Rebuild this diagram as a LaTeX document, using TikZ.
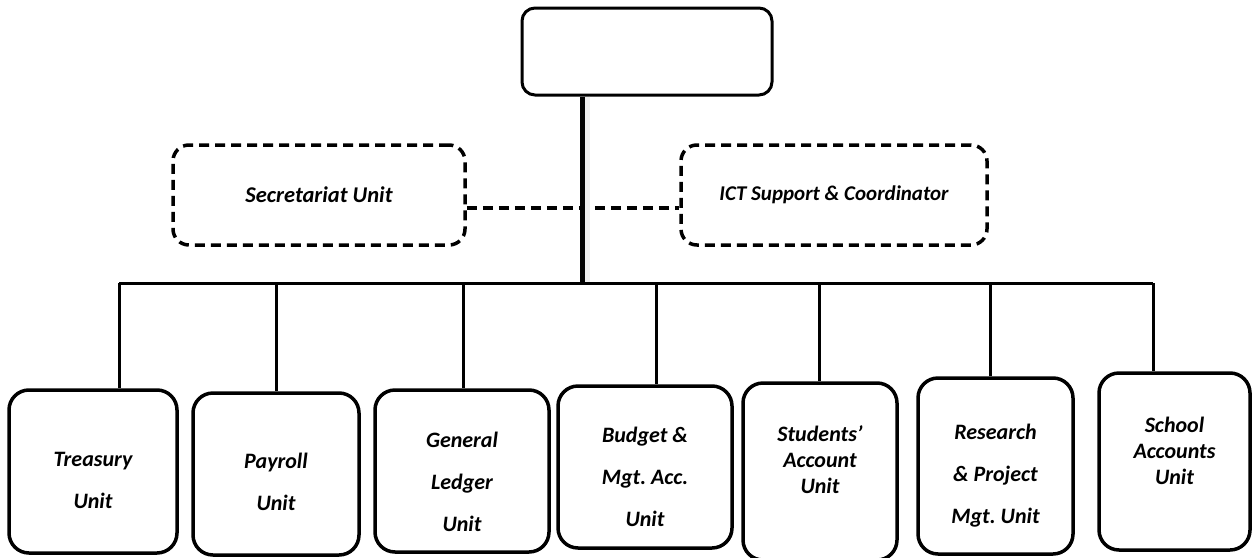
\documentclass[tikz,border=0pt]{standalone}
\usepackage{fontspec}
\setmainfont{Carlito}

\begin{document}
\begin{tikzpicture}[x=1pt, y=-1pt,
  line width=3pt,
  every node/.style={font=\fontsize{22}{26}\selectfont\bfseries\itshape},
  head/.style={draw, rounded corners=13pt, line width=3pt},
  aside/.style={draw, rounded corners=16pt, dash pattern=on 10pt off 6pt, line width=3.5pt},
  unit/.style={draw, rounded corners=20pt, line width=3.5pt},
  unittext/.style={align=center},
  double/.style={font=\fontsize{22}{42}\selectfont\bfseries\itshape},
  dashline/.style={dash pattern=on 10pt off 6pt, line width=3.5pt},
  stem/.style={line width=5pt},
  stemshadow/.style={line width=7pt, draw=black!7}
]
\useasboundingbox (0,0) rectangle (1252,557);

% head of the department
\node[head, minimum width=250, minimum height=87] (director) at (647,51.5) {};

% staff units beside the stem
\node[aside, minimum width=292, minimum height=100, font=\fontsize{22.5}{26}\selectfont\bfseries\itshape] (secretariat) at (319,195) {Secretariat Unit};
\node[aside, minimum width=306, minimum height=100, font=\fontsize{21}{26}\selectfont\bfseries\itshape] (ict) at (834,195) {ICT Support \& Coordinator};

% units under the bus
\node[unit, minimum width=168, minimum height=163] (treasury) at (93,471.5) {};
\node[unit, minimum width=166, minimum height=162] (payroll) at (276,474) {};
\node[unit, minimum width=174, minimum height=162] (ledger) at (462,471) {};
\node[unit, minimum width=174, minimum height=162] (budget) at (645,467) {};
\node[unit, minimum width=154, minimum height=177] (students) at (820,471.5) {};
\node[unit, minimum width=155, minimum height=176] (research) at (995.5,466) {};
\node[unit, minimum width=151, minimum height=177] (school) at (1174.5,461.5) {};

\node[unittext, double] (treasury-txt) at ([yshift=-9pt]treasury.center) {Treasury\\Unit};
\node[unittext, double] (payroll-txt) at ([yshift=-8pt]payroll.center) {Payroll\\Unit};
\node[unittext, double] (ledger-txt) at ([yshift=-11pt]ledger.center) {General\\Ledger\\Unit};
\node[unittext, double] (budget-txt) at ([yshift=-10pt]budget.center) {Budget \&\\Mgt.\ Acc.\\Unit};
\node[unittext] (students-txt) at ([yshift=12pt]students.center) {Students’\\Account\\Unit};
\node[unittext, double] (research-txt) at ([yshift=-10pt]research.center) {Research\\\& Project\\Mgt.\ Unit};
\node[unittext] (school-txt) at ([yshift=11pt]school.center) {School\\Accounts\\Unit};

% bus and drops
\coordinate (link) at (582,208);
\coordinate (stemfoot) at (582,283);
\coordinate (b1) at (119,283);
\coordinate (b2) at (276,283);
\coordinate (b3) at (463,283);
\coordinate (b4) at (656,283);
\coordinate (b5) at (819,283);
\coordinate (b6) at (990,283);
\coordinate (b7) at (1153,283);

\draw[dashline] (secretariat.east |- link) -- (ict.west |- link);
\draw[stemshadow] ([xshift=4pt]director.south -| stemfoot) -- ([xshift=4pt]stemfoot);
\draw[stem] (director.south -| stemfoot) -- (stemfoot);

\draw (b1) -- (b7);
\draw (b1) -- (b1 |- treasury.north);
\draw (b2) -- (b2 |- payroll.north);
\draw (b3) -- (b3 |- ledger.north);
\draw (b4) -- (b4 |- budget.north);
\draw (b5) -- (b5 |- students.north);
\draw (b6) -- (b6 |- research.north);
\draw (b7) -- (b7 |- school.north);
\end{tikzpicture}
\end{document}
